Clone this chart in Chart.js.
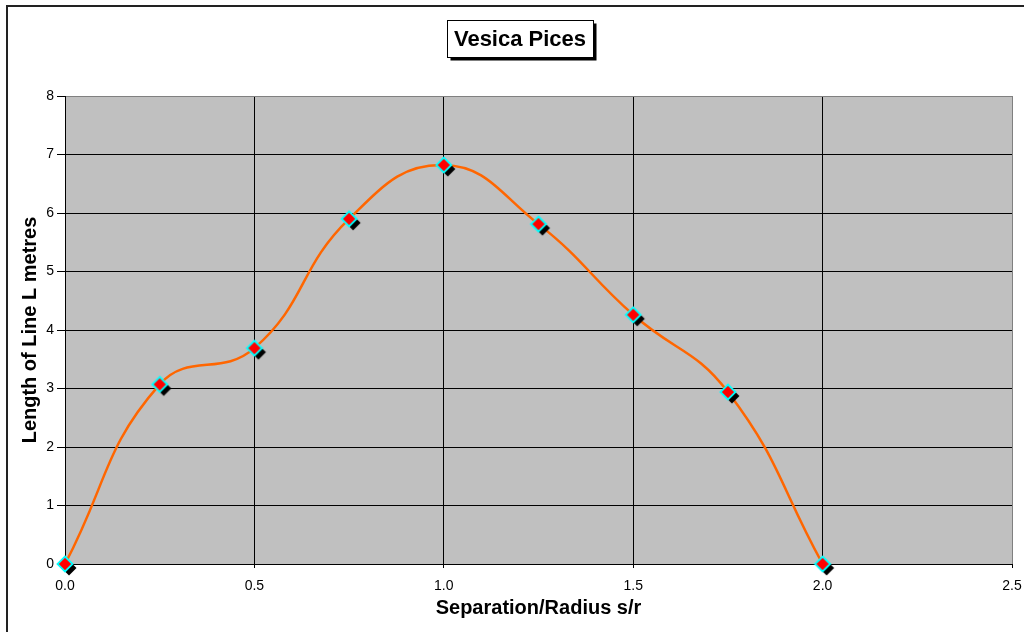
<!DOCTYPE html>
<html>
<head>
<meta charset="utf-8">
<script src="https://cdn.jsdelivr.net/npm/chart.js@4/dist/chart.umd.min.js"></script>
<style>
  html, body { margin: 0; padding: 0; background: #fff; }
  #frame { position: absolute; left: 6px; top: 5px; width: 1030px; height: 640px; border: 2px solid #222; box-sizing: border-box; }
  #wrap { position: absolute; left: 0; top: 0; width: 1024px; height: 632px; }
</style>
</head>
<body>
<div id="frame"></div>
<div id="wrap"><canvas id="chart" width="1024" height="632"></canvas></div>
<script>
// ratio s/r and measured length L
const separation = [0, 0.25, 0.5, 0.75, 1.0, 1.25, 1.5, 1.75, 2.0];
const lengthL = [0, 3.07, 3.69, 5.9, 6.82, 5.81, 4.26, 2.94, 0];
const xTicks = [0, 0.5, 1.0, 1.5, 2.0, 2.5];
const chartTitle = 'Vesica Pices';
const xTitle = 'Separation/Radius s/r';
const yTitle = 'Length of Line L metres';

const FONT = "Arial, 'Liberation Sans', sans-serif";

// diamond marker with cyan rim and black drop shadow
function makeMarker() {
  const c = document.createElement('canvas');
  c.width = 28; c.height = 28;
  const g = c.getContext('2d');
  const cx = 14, cy = 14, r = 7.5;
  const diamond = (x, y) => {
    g.beginPath();
    g.moveTo(x, y - r); g.lineTo(x + r, y); g.lineTo(x, y + r); g.lineTo(x - r, y);
    g.closePath();
  };
  g.fillStyle = '#000';
  diamond(cx + 4, cy + 4);
  g.fill();
  g.fillStyle = '#ff0000';
  g.strokeStyle = '#00ffff';
  g.lineWidth = 1.8;
  diamond(cx, cy);
  g.fill();
  g.stroke();
  return c;
}

const plotBg = {
  id: 'plotBg',
  beforeDraw(chart) {
    const { ctx, chartArea: a } = chart;
    ctx.save();
    ctx.fillStyle = '#c0c0c0';
    ctx.fillRect(a.left, a.top, a.right - a.left, a.bottom - a.top);
    ctx.restore();
  }
};

const titleBox = {
  id: 'titleBox',
  afterDraw(chart) {
    const { ctx } = chart;
    ctx.save();
    ctx.font = 'bold 22px ' + FONT;
    const w = ctx.measureText(chartTitle).width;
    const cx = 520;
    const left = Math.round(cx - w / 2 - 7) + 0.5;
    const top = 20.5;
    const bw = Math.round(w + 14), bh = 37;
    ctx.fillStyle = '#000';
    ctx.fillRect(left + 3, top + 3, bw, bh);
    ctx.fillStyle = '#fff';
    ctx.fillRect(left, top, bw, bh);
    ctx.strokeStyle = '#000';
    ctx.lineWidth = 1;
    ctx.strokeRect(left, top, bw, bh);
    ctx.fillStyle = '#000';
    ctx.textAlign = 'center';
    ctx.textBaseline = 'middle';
    ctx.fillText(chartTitle, cx, top + bh / 2 + 1);
    ctx.restore();
  }
};

new Chart(document.getElementById('chart'), {
  type: 'line',
  data: {
    datasets: [{
      data: separation.map((s, i) => ({ x: s, y: lengthL[i] })),
      borderColor: '#ff6600',
      borderWidth: 2.5,
      tension: 0.45,
      pointStyle: makeMarker(),
      pointRadius: 7,
      clip: false
    }]
  },
  options: {
    responsive: false,
    animation: false,
    layout: { padding: { left: 12, right: 12, top: 96, bottom: 0 } },
    plugins: {
      legend: { display: false },
      tooltip: { enabled: false },
      title: { display: false }
    },
    scales: {
      x: {
        type: 'linear',
        min: 0, max: 2.5,
        afterBuildTicks: s => { s.ticks = xTicks.map(v => ({ value: v })); },
        afterFit: s => { s.height = 68; s.paddingLeft = 0; s.paddingRight = 0; },
        border: { color: '#000', width: 1 },
        grid: {
          color: c => (c.tick && c.tick.value === 2.5 ? '#808080' : '#000'),
          tickColor: '#000',
          tickLength: 4,
          lineWidth: 1
        },
        ticks: {
          color: '#000',
          font: { family: FONT, size: 14 },
          padding: 10,
          maxRotation: 0,
          callback: v => v.toFixed(1)
        },
        title: {
          display: true,
          text: xTitle,
          color: '#000',
          font: { family: FONT, size: 20, weight: 'bold' },
          padding: { top: 12, bottom: 12 }
        }
      },
      y: {
        min: 0, max: 8,
        afterFit: s => { s.width = 53; s.paddingTop = 0; s.paddingBottom = 0; },
        border: { color: '#000', width: 1 },
        grid: {
          color: c => (c.tick && c.tick.value === 8 ? '#808080' : '#000'),
          tickColor: '#000',
          tickLength: 8,
          lineWidth: 1
        },
        ticks: {
          stepSize: 1,
          color: '#000',
          font: { family: FONT, size: 14 },
          padding: 3
        },
        title: {
          display: true,
          text: yTitle,
          color: '#000',
          font: { family: FONT, size: 20, weight: 'bold' },
          padding: { top: 6, bottom: 6 }
        }
      }
    }
  },
  plugins: [plotBg, titleBox]
});
</script>
</body>
</html>
